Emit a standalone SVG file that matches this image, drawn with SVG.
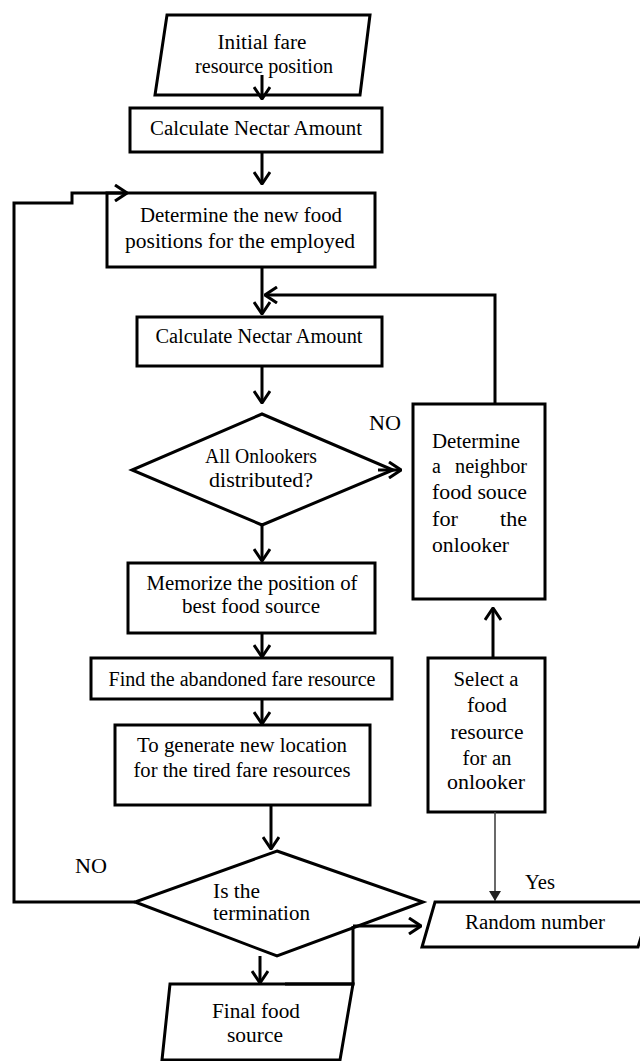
<svg xmlns="http://www.w3.org/2000/svg" width="640" height="1061" viewBox="0 0 640 1061">
<style>
.s{fill:#fff;stroke:#000;stroke-width:3}
.c{fill:none;stroke:#000;stroke-width:3}
.t{font-family:"Liberation Serif","Times New Roman",serif;font-size:20px;fill:#000}
.m{text-anchor:middle}
</style>
<defs>
<marker id="ah" viewBox="0 0 14 18" refX="13" refY="9" markerWidth="14" markerHeight="18" markerUnits="userSpaceOnUse" orient="auto">
<path d="M1,1 L13,9 L1,17" fill="none" stroke="#000" stroke-width="3"/>
</marker>
<marker id="sm" viewBox="0 0 10 12" refX="10" refY="6" markerWidth="10" markerHeight="12" markerUnits="userSpaceOnUse" orient="auto">
<path d="M0,0 L10,6 L0,12 Z" fill="#222"/>
</marker>
</defs>
<rect width="640" height="1061" fill="#fff"/>

<g id="n1">
<polygon class="s" points="167,15 370,15 360,95 155,95"/>
<text class="t m" x="262" y="49" textLength="89" lengthAdjust="spacingAndGlyphs">Initial fare</text>
<text class="t m" x="264" y="73" textLength="138" lengthAdjust="spacingAndGlyphs">resource position</text>
</g>

<g id="n2">
<rect class="s" x="130" y="108" width="252" height="44"/>
<text class="t m" x="256" y="135" textLength="212" lengthAdjust="spacingAndGlyphs">Calculate Nectar Amount</text>
</g>

<g id="n3">
<rect class="s" x="107" y="193" width="268" height="74"/>
<text class="t m" x="241" y="222" textLength="202" lengthAdjust="spacingAndGlyphs">Determine the new food</text>
<text class="t m" x="240" y="248" textLength="230" lengthAdjust="spacingAndGlyphs">positions for the employed</text>
</g>

<g id="n4">
<rect class="s" x="137" y="317" width="245" height="49"/>
<text class="t m" x="259" y="343" textLength="207" lengthAdjust="spacingAndGlyphs">Calculate Nectar Amount</text>
</g>

<g id="n5">
<polygon class="s" points="262,414 393,470 262,525 132,470"/>
<text class="t m" x="261" y="463" textLength="112" lengthAdjust="spacingAndGlyphs">All Onlookers</text>
<text class="t m" x="261" y="487" textLength="104" lengthAdjust="spacingAndGlyphs">distributed?</text>
</g>

<g id="n6">
<rect class="s" x="413" y="404" width="132" height="195"/>
<text class="t" x="432" y="448" textLength="88" lengthAdjust="spacingAndGlyphs">Determine</text>
<text class="t" x="432" y="473">a</text>
<text class="t" x="527" y="473" text-anchor="end" textLength="72" lengthAdjust="spacingAndGlyphs">neighbor</text>
<text class="t" x="432" y="499" textLength="95" lengthAdjust="spacingAndGlyphs">food souce</text>
<text class="t" x="432" y="526" textLength="26" lengthAdjust="spacingAndGlyphs">for</text>
<text class="t" x="527" y="526" text-anchor="end" textLength="27" lengthAdjust="spacingAndGlyphs">the</text>
<text class="t" x="432" y="552" textLength="77" lengthAdjust="spacingAndGlyphs">onlooker</text>
</g>

<g id="n7">
<rect class="s" x="128" y="563" width="247" height="70"/>
<text class="t m" x="252" y="590" textLength="211" lengthAdjust="spacingAndGlyphs">Memorize the position of</text>
<text class="t m" x="251" y="613" textLength="138" lengthAdjust="spacingAndGlyphs">best food source</text>
</g>

<g id="n8">
<rect class="s" x="91" y="658" width="301" height="41"/>
<text class="t m" x="242" y="686" textLength="267" lengthAdjust="spacingAndGlyphs">Find the abandoned fare resource</text>
</g>

<g id="n9">
<rect class="s" x="115" y="725" width="255" height="80"/>
<text class="t m" x="242" y="752" textLength="210" lengthAdjust="spacingAndGlyphs">To generate new location</text>
<text class="t m" x="242" y="777" textLength="217" lengthAdjust="spacingAndGlyphs">for the tired fare resources</text>
</g>

<g id="n10">
<rect class="s" x="428" y="658" width="117" height="154"/>
<text class="t m" x="486" y="686" textLength="65" lengthAdjust="spacingAndGlyphs">Select a</text>
<text class="t m" x="487" y="712" textLength="40" lengthAdjust="spacingAndGlyphs">food</text>
<text class="t m" x="487" y="739" textLength="73" lengthAdjust="spacingAndGlyphs">resource</text>
<text class="t m" x="487" y="765" textLength="49" lengthAdjust="spacingAndGlyphs">for an</text>
<text class="t m" x="486" y="789" textLength="78" lengthAdjust="spacingAndGlyphs">onlooker</text>
</g>

<g id="n11">
<polygon class="s" points="277,851 423,902 277,956 135,902"/>
<text class="t" x="213" y="898" textLength="47" lengthAdjust="spacingAndGlyphs">Is the</text>
<text class="t" x="213" y="920" textLength="97" lengthAdjust="spacingAndGlyphs">termination</text>
</g>

<g id="n12">
<polygon class="s" points="435,902 652,902 638,947 422,947"/>
<text class="t m" x="535" y="929" textLength="140" lengthAdjust="spacingAndGlyphs">Random number</text>
</g>

<g id="n13">
<polygon class="s" points="170,984 353,984 340,1060 162,1060"/>
<text class="t m" x="256" y="1018" textLength="88" lengthAdjust="spacingAndGlyphs">Final food</text>
<text class="t m" x="255" y="1042" textLength="56" lengthAdjust="spacingAndGlyphs">source</text>
</g>

<g id="labels">
<text class="t m" x="385" y="430" textLength="32" lengthAdjust="spacingAndGlyphs">NO</text>
<text class="t m" x="91" y="873" textLength="32" lengthAdjust="spacingAndGlyphs">NO</text>
<text class="t m" x="540" y="889" textLength="30" lengthAdjust="spacingAndGlyphs">Yes</text>
</g>

<g id="connectors">
<path class="c" d="M262,75 L262,99" marker-end="url(#ah)"/>
<path class="c" d="M135,902 L14,902 L14,203 L72,203 L72,193 L127,193" marker-end="url(#ah)"/>
<path class="c" d="M262,152 L262,184" marker-end="url(#ah)"/>
<path class="c" d="M262,267 L262,314" marker-end="url(#ah)"/>
<path class="c" d="M495,404 L495,295 L265,295" marker-end="url(#ah)"/>
<path class="c" d="M262,366 L262,403" marker-end="url(#ah)"/>
<path class="c" d="M378,470 L401,470" stroke-width="3.5" marker-end="url(#ah)"/>
<path class="c" d="M262,525 L262,561" marker-end="url(#ah)"/>
<path class="c" d="M262,633 L262,657" marker-end="url(#ah)"/>
<path class="c" d="M262,699 L262,724" marker-end="url(#ah)"/>
<path class="c" d="M271,805 L271,849" marker-end="url(#ah)"/>
<path class="c" d="M493,658 L493,608" marker-end="url(#ah)"/>
<path fill="none" stroke="#444" stroke-width="1.6" d="M495,812 L495,901" marker-end="url(#sm)"/>
<path class="c" d="M260,956 L260,983" marker-end="url(#ah)"/>
<path class="c" d="M353,926 L353,984 L285,984"/>
<path class="c" d="M353,926 L421,926" stroke-width="3.5" marker-end="url(#ah)"/>
</g>
</svg>
